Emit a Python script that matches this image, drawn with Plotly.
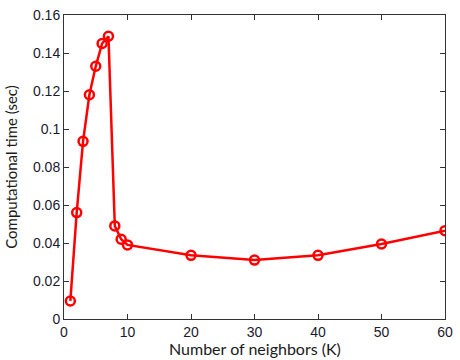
import plotly.graph_objects as go

k_values = [1, 2, 3, 4, 5, 6, 7, 8, 9, 10, 20, 30, 40, 50, 60]
comp_time = [0.0095, 0.056, 0.0935, 0.118, 0.133, 0.145, 0.1488, 0.049, 0.042, 0.039,
             0.0335, 0.031, 0.0335, 0.0395, 0.0465]
x_ticks = [0, 10, 20, 30, 40, 50, 60]
y_ticks = [0, 0.02, 0.04, 0.06, 0.08, 0.1, 0.12, 0.14, 0.16]
y_tick_text = ["0", "0.02", "0.04", "0.06", "0.08", "0.1", "0.12", "0.14", "0.16"]
x_title = "Number of neighbors (K)"
y_title = "Computational time (sec)"

fig = go.Figure()
fig.add_trace(go.Scatter(
    x=k_values, y=comp_time, mode="lines+markers",
    line=dict(color="#ff0000", width=2.5),
    marker=dict(symbol="circle-open", size=9, color="#ff0000", line=dict(width=2.5)),
    showlegend=False,
))

axis_common = dict(
    showgrid=False, zeroline=False, showline=True, linecolor="#333333", linewidth=1,
    mirror="ticks", ticks="inside", ticklen=5, tickcolor="#333333",
    tickfont=dict(family="Liberation Sans, Arial", size=14, color="#1a1a2e"),
)
fig.update_layout(
    width=460, height=360,
    margin=dict(l=64, r=7, t=13, b=41),
    paper_bgcolor="white", plot_bgcolor="white",
    xaxis=dict(range=[0, 60], tickvals=x_ticks, **axis_common),
    yaxis=dict(range=[0, 0.16], tickvals=y_ticks, ticktext=y_tick_text, **axis_common,
               title=dict(text=y_title, standoff=11,
                          font=dict(family="Lato", size=15, color="#1a1a1a"))),
    annotations=[dict(
        text=x_title, xref="paper", yref="paper", x=0.5, y=-0.058,
        xanchor="center", yanchor="top", showarrow=False,
        font=dict(family="Lato", size=16, color="#1a1a1a"),
    )],
)
fig.write_html("out.html")
